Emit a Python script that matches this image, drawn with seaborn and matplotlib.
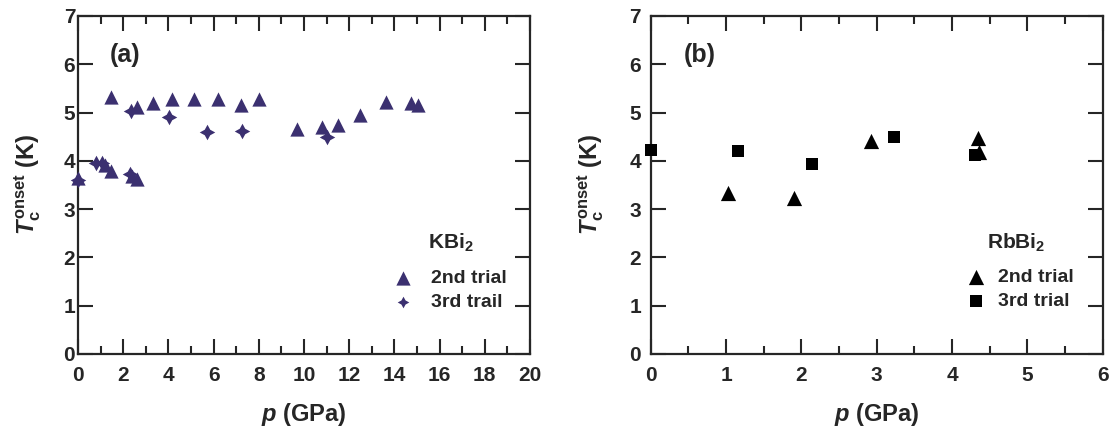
import numpy as np
import pandas as pd
import matplotlib
matplotlib.use("Agg")
import matplotlib.pyplot as plt
from matplotlib.ticker import MultipleLocator
import seaborn as sns

#------------------------------ data ------------------------------#

# (a) KBi2
kbi2_p_2nd = [0.0, 1.2, 1.45, 1.45, 2.4, 2.6, 2.6, 3.33, 4.14, 5.13, 6.21, 7.2, 8.0,
              9.67, 10.8, 11.5, 12.48, 13.63, 14.72, 15.06]
kbi2_t_2nd = [3.64, 3.92, 5.33, 3.78, 3.69, 5.12, 3.63, 5.19, 5.29, 5.27, 5.28, 5.15, 5.27,
              4.65, 4.69, 4.75, 4.94, 5.22, 5.19, 5.15]
kbi2_p_3rd = [0.0, 0.8, 1.05, 2.3, 2.35, 4.01, 5.69, 7.27, 11.0]
kbi2_t_3rd = [3.6, 3.96, 3.95, 3.72, 5.03, 4.91, 4.6, 4.62, 4.5]

# (b) RbBi2
rbbi2_p_2nd = [1.02, 1.9, 2.92, 4.34, 4.36]
rbbi2_t_2nd = [3.33, 3.22, 4.42, 4.48, 4.19]
rbbi2_p_3rd = [0.0, 1.16, 2.14, 3.23, 4.31]
rbbi2_t_3rd = [4.23, 4.21, 3.94, 4.49, 4.12]

purple = '#3B3070'

#------------------------------ style ------------------------------#

sns.set_style('ticks')
plt.rcParams['font.family'] = ['Liberation Sans', 'DejaVu Sans']
plt.rcParams['font.weight'] = 'bold'
plt.rcParams['mathtext.fontset'] = 'custom'
plt.rcParams['mathtext.rm'] = 'Liberation Sans:bold'
plt.rcParams['mathtext.it'] = 'Liberation Sans:bold:italic'
plt.rcParams['mathtext.bf'] = 'Liberation Sans:bold'

fig = plt.figure(figsize=(11.16, 4.37), dpi=100)
ax_a = fig.add_axes([0.0699, 0.19, 0.4050, 0.7735])
ax_b = fig.add_axes([0.5831, 0.19, 0.4050, 0.7735])

df_a2 = pd.DataFrame({'p': kbi2_p_2nd, 'T': kbi2_t_2nd})
df_a3 = pd.DataFrame({'p': kbi2_p_3rd, 'T': kbi2_t_3rd})
df_b2 = pd.DataFrame({'p': rbbi2_p_2nd, 'T': rbbi2_t_2nd})
df_b3 = pd.DataFrame({'p': rbbi2_p_3rd, 'T': rbbi2_t_3rd})

star4 = (4, 1, 0)  # 4-pointed star for the "3rd trail" points

sns.scatterplot(data=df_a2, x='p', y='T', ax=ax_a, marker='^', s=105, color=purple,
                linewidth=0, clip_on=False, zorder=3, label='2nd trial')
sns.scatterplot(data=df_a3, x='p', y='T', ax=ax_a, marker=star4, s=125, color=purple,
                linewidth=0, clip_on=False, zorder=3, label='3rd trail')

sns.scatterplot(data=df_b2, x='p', y='T', ax=ax_b, marker='^', s=120, color='black',
                linewidth=0, clip_on=False, zorder=3, label='2nd trial')
sns.scatterplot(data=df_b3, x='p', y='T', ax=ax_b, marker='s', s=80, color='black',
                linewidth=0, clip_on=False, zorder=3, label='3rd trial')


def style_axes(ax, xmax, xmajor, xminor, ypad, ylab_x):
    ax.set_xlim(0, xmax)
    ax.set_ylim(0, 7)
    ax.xaxis.set_major_locator(MultipleLocator(xmajor))
    ax.xaxis.set_minor_locator(MultipleLocator(xminor))
    ax.yaxis.set_major_locator(MultipleLocator(1))
    for s in ax.spines.values():
        s.set_visible(True)
        s.set_linewidth(1.6)
    ax.tick_params(axis='both', which='both', direction='in', top=True, right=True,
                   width=1.5, labelsize=15)
    ax.tick_params(axis='x', which='major', length=11, pad=9)
    ax.tick_params(axis='x', which='minor', length=6)
    ax.tick_params(axis='y', which='major', length=11, pad=ypad)
    for lab in ax.get_xticklabels() + ax.get_yticklabels():
        lab.set_fontweight('bold')
    ax.set_xlabel(r'$p$ (GPa)', fontsize=17, fontweight='bold')
    ax.set_ylabel(r'$T_\mathrm{c}^\mathrm{onset}$ (K)', fontsize=17, fontweight='bold')
    ax.xaxis.set_label_coords(0.5, -0.14)
    ax.yaxis.set_label_coords(ylab_x, 0.5)


style_axes(ax_a, 20, 2, 1, 2, -0.077)
style_axes(ax_b, 6, 1, 0.5, 7, -0.100)

ax_a.text(2.1, 6.2, '(a)', fontsize=18, fontweight='bold', ha='center', va='center')
ax_b.text(0.65, 6.2, '(b)', fontsize=18, fontweight='bold', ha='center', va='center')

ax_a.text(16.5, 2.3, r'KBi$_\mathrm{2}$', fontsize=15, fontweight='bold', ha='center', va='center')
ax_b.text(4.85, 2.3, r'RbBi$_\mathrm{2}$', fontsize=15, fontweight='bold', ha='center', va='center')

leg_a = ax_a.legend(loc='upper left', bbox_to_anchor=(0.676, 0.272), frameon=False,
                    handletextpad=0.84, labelspacing=0.33, borderaxespad=0,
                    handlelength=1.2, prop={'weight': 'bold', 'size': 14})
# the star looks smaller in the original legend
leg_a.legend_handles[1].set_sizes([70])
ax_b.legend(loc='upper left', bbox_to_anchor=(0.676, 0.275), frameon=False,
            handletextpad=0.53, labelspacing=0.3, borderaxespad=0,
            handlelength=1.2, prop={'weight': 'bold', 'size': 14})

fig.savefig('out.png', dpi=100)
